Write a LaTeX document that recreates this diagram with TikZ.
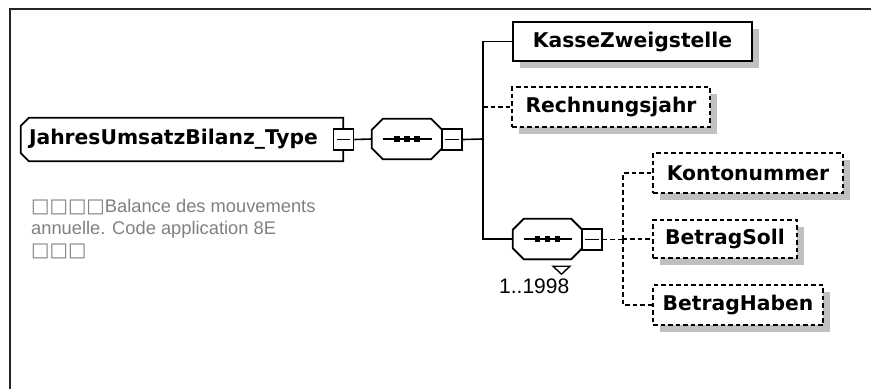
\documentclass[tikz,border=0pt]{standalone}
\usepackage{fontspec}
\setmainfont{Liberation Sans}
\newfontfamily\dv{DejaVu Sans}
\usetikzlibrary{calc,shadows}
\pgfdeclarelayer{background}
\pgfsetlayers{background,main}
\definecolor{shadowgray}{HTML}{C0C0C0}
\definecolor{descgray}{HTML}{808080}
\newcommand\octa[3]{%
  \path[#3] ($(#1.north west)+(#2,0)$) -- ($(#1.north east)+(-#2,0)$) -- ($(#1.north east)+(0,#2)$) -- ($(#1.south east)+(0,-#2)$) -- ($(#1.south east)+(-#2,0)$) -- ($(#1.south west)+(#2,0)$) -- ($(#1.south west)+(0,-#2)$) -- ($(#1.north west)+(0,#2)$) -- cycle;}
\newcommand\rootpath[3]{%
  \path[#3] ($(#1.north west)+(#2,0)$) -- (#1.north east) -- (#1.south east) -- ($(#1.south west)+(#2,0)$) -- ($(#1.south west)+(0,-#2)$) -- ($(#1.north west)+(0,#2)$) -- cycle;}
\tikzset{
  x=1pt, y=-1pt,
  lbl/.style={font=\dv\bfseries\fontsize{20.3}{21}\selectfont},
  elem/.style={lbl, draw, line width=2pt, fill=white, minimum height=39pt, inner sep=0pt,
    general shadow={fill=shadowgray, shadow xshift=7pt, shadow yshift=-7pt}},
  optelem/.style={elem, dash pattern=on 4.5pt off 3pt},
  holder/.style={draw=none, inner sep=0pt},
  minusbox/.style={draw, line width=1.6pt, fill=white, minimum width=20pt, minimum height=21pt, inner sep=0pt},
  shapeline/.style={draw, line width=1.8pt, fill=white},
  conn/.style={line width=1.6pt},
  optconn/.style={line width=1.6pt, dash pattern=on 4.5pt off 3pt},
  desc/.style={text=descgray, font=\fontsize{18.3}{22}\selectfont, align=left, inner sep=0pt},
}
\newcommand\bxs[1]{{\dv\fontsize{19.5}{22}\selectfont #1}}
\begin{document}
\begin{tikzpicture}
\useasboundingbox (0,0) rectangle (871,389);
\draw[line width=1.8pt, black!85] (10,389) -- (10,9) -- (871,9);

% root type
\node[holder, lbl, minimum width=322pt, minimum height=43pt, text width=306pt, align=left] (root) at (182,139.5) {JahresUmsatzBilanz\_Type};
\node[minusbox] (rootm) at (343.5,139.5) {};
\draw[line width=1.4pt] ([xshift=4pt]rootm.west) -- ([xshift=-4pt]rootm.east);

% sequence 1
\node[holder, minimum width=70pt, minimum height=40pt] (seq1) at (407,139) {};
\node[minusbox] (m1) at (452,139.5) {};
\draw[line width=1.4pt] ([xshift=4pt]m1.west) -- ([xshift=-4pt]m1.east);

% sequence 2
\node[holder, minimum width=69pt, minimum height=40pt] (seq2) at (547.5,239) {};
\node[minusbox] (m2) at (592,239.5) {};
\draw[line width=1.4pt] ([xshift=4pt]m2.west) -- ([xshift=-4pt]m2.east);
\node[anchor=base west, inner sep=0pt, font=\fontsize{21}{21}\selectfont] (occ) at (499,293) {1..1998};

\begin{pgfonlayer}{background}
  \rootpath{root}{8}{fill=shadowgray, shift={(8,8)}}
  \rootpath{root}{8}{shapeline}
  \octa{seq1}{11}{fill=shadowgray, shift={(6,6)}}
  \octa{seq1}{11}{shapeline}
  \octa{seq2}{11}{fill=shadowgray, shift={(12,13)}}
  \octa{seq2}{11}{shapeline, line width=1.6pt, shift={(6,7)}}
  \draw[line width=1.4pt, fill=white] ($(seq2.south)+(6,7)+(-0.5,0)$) -- ($(seq2.south)+(6,7)+(16.5,0)$) -- ($(seq2.south)+(6,7)+(8,8)$) -- cycle;
  \octa{seq2}{11}{shapeline}
\end{pgfonlayer}

% compositor inner symbols
\foreach \s in {seq1,seq2}{
  \draw[line width=1.4pt] ([xshift=11pt]\s.west) -- ([xshift=-10pt]\s.east);
  \foreach \dx in {-10,0,10}
    \fill ([xshift=\dx pt]\s.center) +(-2.8,-2.8) rectangle +(2.8,2.8);
}

% elements
\node[elem, minimum width=239pt] (kasse) at (632.5,41.5) {KasseZweigstelle};
\node[optelem, minimum width=198pt, minimum height=40pt] (rech) at (611,107) {Rechnungsjahr};
\node[optelem, minimum width=190pt, minimum height=40pt] (konto) at (748,173) {Kontonummer};
\node[optelem, minimum width=144pt, minimum height=38pt] (soll) at (725,239) {BetragSoll};
\node[optelem, minimum width=170pt, minimum height=40pt] (haben) at (738,305) {BetragHaben};

% description
\node[desc, anchor=base west] (desc) at (31,256) {\bxs{□□□□}Balance des mouvements\\annuelle. Code application 8E\\\bxs{□□□}};

% connectors
\coordinate (j1) at (483,139);
\coordinate (j2) at (623,239.5);
\draw[conn] (rootm.east) -- (seq1.west);
\draw[conn] (m1.east) -- (j1);
\draw[conn] (j1) |- (kasse.west);
\draw[conn] (j1) |- (seq2.west);
\draw[optconn] (rech.west -| j1) -- (rech.west);
\draw[optconn] (m2.east) -- (j2);
\draw[optconn] (j2) |- (konto.west);
\draw[optconn] (j2) |- (soll.west);
\draw[optconn] (j2) |- (haben.west);
\end{tikzpicture}
\end{document}
